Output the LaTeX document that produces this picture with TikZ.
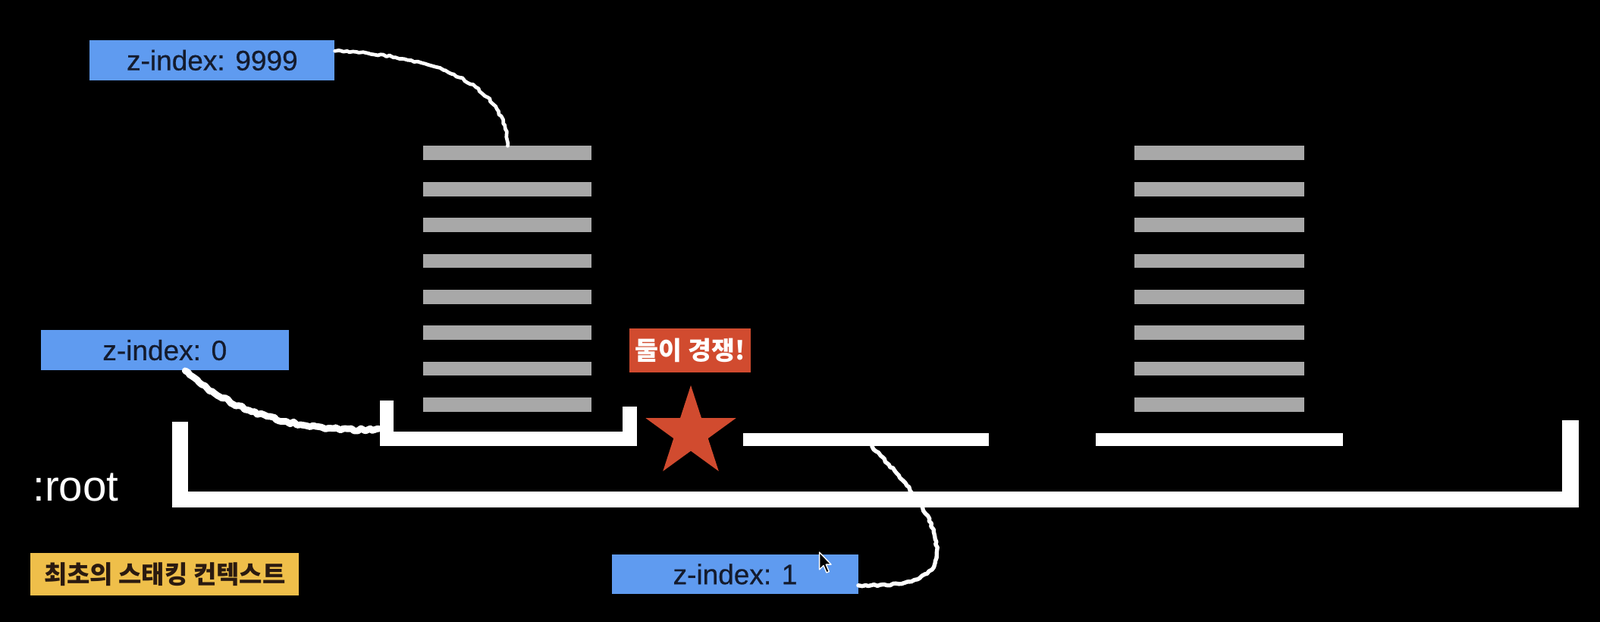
\documentclass[tikz,border=0pt]{standalone}
\usepackage{fontspec}
\setmainfont{Liberation Sans}
\newfontfamily\medsans[FakeBold=0.6]{Liberation Sans}
\newfontfamily\kr{Noto Sans CJK KR}
\usetikzlibrary{shapes.geometric,decorations.pathmorphing}
\definecolor{zblue}{HTML}{5F9BF0}
\definecolor{ztext}{HTML}{141B2D}
\definecolor{bargrey}{HTML}{A8A8A8}
\definecolor{starred}{HTML}{D14B2F}
\definecolor{labyellow}{HTML}{EFBF4A}
\definecolor{labtext}{HTML}{2A1A10}
\begin{document}
\begin{tikzpicture}[x=1pt,y=-1pt,
  zbox/.style={fill=zblue, text=ztext, minimum height=39pt, inner sep=0pt,
    font=\medsans\fontsize{27.5}{31}\selectfont},
  greybar/.style={fill=bargrey, minimum height=14pt, inner sep=0pt},
  whitebar/.style={fill=white, minimum height=13pt, inner sep=0pt},
  wall/.style={draw=white, line join=miter, line cap=butt},
  chalk/.style={draw=white, line width=4pt, line join=round, line cap=round,
    decorate, decoration={random steps, segment length=3pt, amplitude=0.9pt}}
]
\fill[black] (0,0) rectangle (1568,609);
\useasboundingbox (0,0) rectangle (1568,609);

% stacks of grey bars
\foreach \i in {1,...,8} {
  \node[greybar, minimum width=165pt] (L\i) at (497.5,{150+35.2*(\i-1)}) {};
  \node[greybar, minimum width=166pt] (R\i) at (1195,{150+35.2*(\i-1)}) {};
}

% root bracket
\draw[wall, line width=16pt] (176.5,413) -- (176.5,489.5) -- (1539,489.5) -- (1539,412);
% left stacking context bracket
\draw[wall, line width=14pt] (379,392) -- (379,430) -- (617,430) -- (617,398);
\coordinate (ctxL) at (371,420);
% other contexts
\node[whitebar, minimum width=241pt] (mid) at (848.5,430.5) {};
\node[whitebar, minimum width=242pt] (rbar) at (1195,430.5) {};

% labels
\node[zbox, minimum width=240pt] (z9999) at (208,59) {z-index: 9999};
\node[zbox, minimum width=243pt, minimum height=40pt] (z0) at (161.5,343) {z-index: 0};
\node[zbox, minimum width=241pt] (z1) at (720.5,562.5) {z-index: 1};

\node[fill=starred, text=white, minimum width=119pt, minimum height=43pt, inner sep=0pt,
  font=\kr\bfseries\fontsize{25}{28}\selectfont] (compete) at (676.5,343.5) {둘이 경쟁!};
\node[star, star points=5, star point ratio=2.618, minimum size=93pt, inner sep=0pt,
  fill=starred] (star) at (677,424) {};

\node[anchor=base west, text=white, inner sep=0pt, font=\fontsize{42}{46}\selectfont]
  (root) at (32,491) {:root};
\node[fill=labyellow, text=labtext, minimum width=263pt, minimum height=41pt, inner sep=0pt,
  font=\kr\bfseries\fontsize{24.5}{28}\selectfont] (first) at (161.5,562.5) {최초의 스태킹 컨텍스트};

% chalk connectors
\draw[chalk, line width=3.5pt] ([yshift=9pt]z9999.east) .. controls (450,55) and (497,95) .. (L1.north);
\draw[chalk, line width=6.5pt, decoration={random steps, segment length=3pt, amplitude=1.3pt}]
  ([xshift=20pt]z0.south) .. controls (215,398) and (290,426) .. (ctxL);
\draw[chalk, line width=4pt] ([xshift=6pt]mid.south) .. controls (885,470) and (918,505) .. (918,540)
   .. controls (918,570) and (885,574) .. ([yshift=-11pt]z1.east);

% mouse pointer
\coordinate (cur) at (803,541);
\filldraw[draw=white, fill=black, line width=1pt, line join=round, shift={(cur)}]
  (0,0) -- (0,17) -- (4,13) -- (7,20) -- (9.5,19) -- (6.5,12) -- (11.5,12) -- cycle;
\end{tikzpicture}
\end{document}
